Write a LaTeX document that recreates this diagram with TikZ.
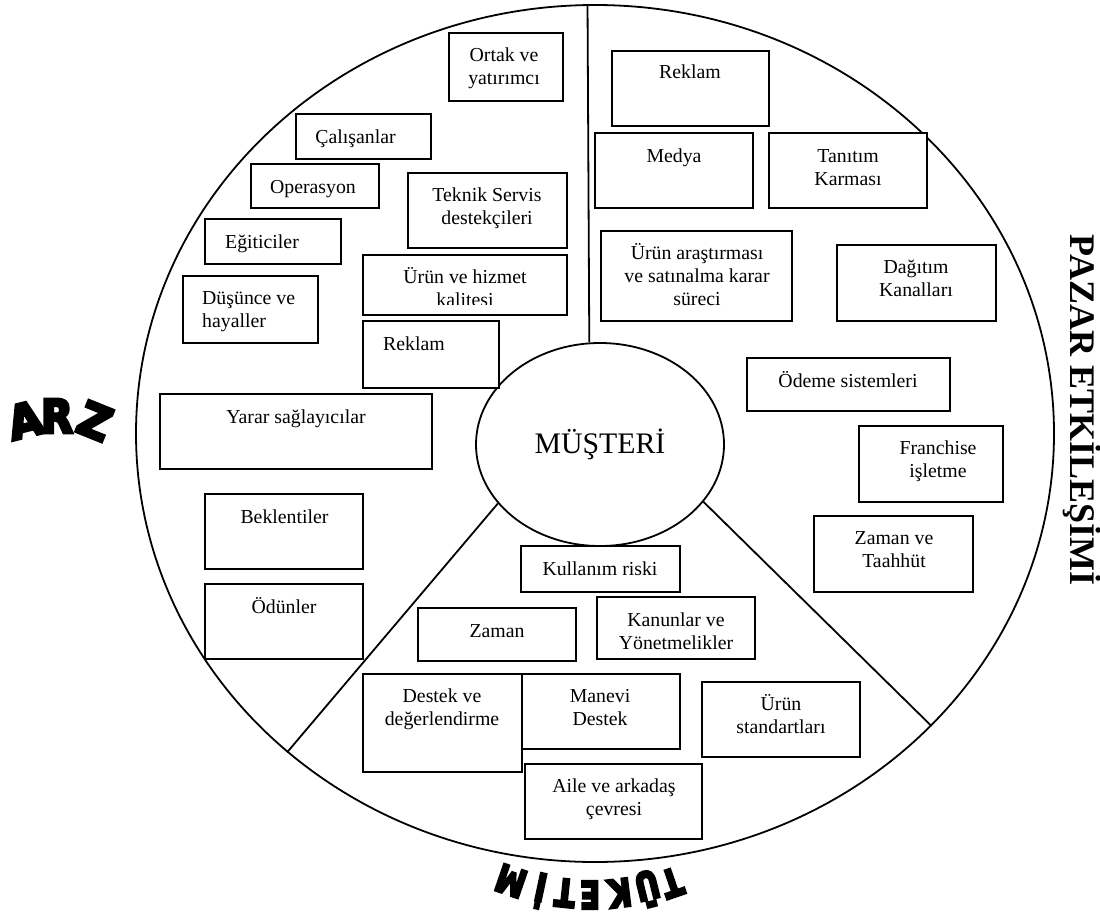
\documentclass[tikz,border=0pt]{standalone}
\usepackage{fontspec}
\setmainfont{Liberation Serif}
\newfontfamily\wordart[FakeBold=7]{DejaVu Sans}
\usepackage{tikz}
\usetikzlibrary{shapes.geometric}

\tikzset{
  ring/.style={draw, ellipse, line width=1.8pt, inner sep=0pt},
  box/.style={draw, line width=1.8pt, fill=white, inner sep=0pt},
  txt/.style={align=center, inner sep=0pt, font=\fontsize{19.8}{23}\selectfont},
  divider/.style={line width=1.8pt},
  arzletter/.style={inner sep=0pt, font=\wordart\bfseries\fontsize{46}{50}\selectfont},
  tukletter/.style={inner sep=0pt, font=\wordart\bfseries\fontsize{38}{42}\selectfont}
}

\begin{document}
\begin{tikzpicture}[x=1pt, y=-1pt]
\useasboundingbox (0,0) rectangle (1100,915);

% big circle and the customer in the middle
\node[ring, minimum width=918pt, minimum height=857pt] (pazar) at (595,433.5) {};
\node[ring, minimum width=248pt, minimum height=203pt, font=\fontsize{29.8}{34}\selectfont] (musteri) at (600,444.5) {MÜŞTERİ};

\draw[divider] (pazar.91) -- (musteri.96);
\draw[divider] (musteri.210) -- (pazar.226);
\draw[divider] (musteri.331) -- (pazar.319);

% ARZ side
\node[box, minimum width=114pt, minimum height=68pt] (ortak) at (506,67) {};
\node[txt, anchor=base] (ortakT) at (504,85) {Ortak ve\\yatırımcı};
\node[box, minimum width=135pt, minimum height=45pt] (calisan) at (363.5,136.5) {};
\node[txt, anchor=base] (calisanT) at (355.5,143) {Çalışanlar};
\node[box, minimum width=128pt, minimum height=44pt] (operasyon) at (315,186) {};
\node[txt, anchor=base] (operasyonT) at (313,193) {Operasyon};
\node[box, minimum width=136pt, minimum height=45pt] (egitici) at (273,241.5) {};
\node[txt, anchor=base] (egiticiT) at (262,248) {Eğiticiler};
\node[box, minimum width=135pt, minimum height=67pt] (dusunce) at (250.5,309.5) {};
\node[txt, align=left, anchor=base west] (dusunceT) at (202,327) {Düşünce ve\\hayaller};
\node[box, minimum width=159pt, minimum height=75pt] (teknik) at (487.5,210.5) {};
\node[txt, anchor=base] (teknikT) at (487,224) {Teknik Servis\\destekçileri};
\node[box, minimum width=204pt, minimum height=60pt] (kalite) at (465,285) {};
\begin{scope}
\clip (363,255) rectangle (567,304);
\node[txt, anchor=base] (kaliteT) at (465,306) {Ürün ve hizmet\\kalitesi};
\end{scope}
\node[box, minimum width=136pt, minimum height=67pt] (reklamA) at (431,354.5) {};
\node[txt, anchor=base west] (reklamAT) at (383,350) {Reklam};
\node[box, minimum width=272pt, minimum height=75pt] (yarar) at (296,431.5) {};
\node[txt, anchor=base] (yararT) at (296,423) {Yarar sağlayıcılar};
\node[box, minimum width=158pt, minimum height=75pt] (beklenti) at (284,531.5) {};
\node[txt, anchor=base] (beklentiT) at (284.5,523) {Beklentiler};
\node[box, minimum width=158pt, minimum height=75pt] (odun) at (284,621.5) {};
\node[txt, anchor=base] (odunT) at (284,613) {Ödünler};

% PAZAR ETKILESIMI side
\node[box, minimum width=157pt, minimum height=75pt] (reklamB) at (690.5,88.5) {};
\node[txt, anchor=base] (reklamBT) at (690,79) {Reklam};
\node[box, minimum width=158pt, minimum height=75pt] (medya) at (674,170.5) {};
\node[txt, anchor=base] (medyaT) at (674,162) {Medya};
\node[box, minimum width=158pt, minimum height=75pt] (tanitim) at (848,170.5) {};
\node[txt, anchor=base] (tanitimT) at (848,185) {Tanıtım\\Karması};
\node[box, minimum width=191pt, minimum height=90pt] (arastirma) at (696.5,276) {};
\node[txt, anchor=base] (arastirmaT) at (697,305) {Ürün araştırması\\ve satınalma karar\\süreci};
\node[box, minimum width=159pt, minimum height=76pt] (dagitim) at (916.5,283) {};
\node[txt, anchor=base] (dagitimT) at (916,296) {Dağıtım\\Kanalları};
\node[box, minimum width=203pt, minimum height=53pt] (odeme) at (848.5,384.5) {};
\node[txt, anchor=base] (odemeT) at (848,387) {Ödeme sistemleri};
\node[box, minimum width=144pt, minimum height=76pt] (franchise) at (931,464) {};
\node[txt, anchor=base] (franchiseT) at (938,477) {Franchise\\işletme};
\node[box, minimum width=159pt, minimum height=76pt] (taahhut) at (893.5,554) {};
\node[txt, anchor=base] (taahhutT) at (894,567) {Zaman ve\\Taahhüt};

% TUKETIM side
\node[box, minimum width=159pt, minimum height=46pt] (kullanim) at (600.5,569) {};
\node[txt, anchor=base] (kullanimT) at (600,575) {Kullanım riski};
\node[box, minimum width=158pt, minimum height=53pt] (zaman) at (497,634.5) {};
\node[txt, anchor=base] (zamanT) at (497,637) {Zaman};
\node[box, minimum width=158pt, minimum height=62pt] (kanun) at (676,628) {};
\node[txt, anchor=base] (kanunT) at (676,649) {Kanunlar ve\\Yönetmelikler};
\node[box, minimum width=159pt, minimum height=98pt] (destek) at (442.5,723) {};
\node[txt, anchor=base] (destekT) at (442,725) {Destek ve\\değerlendirme};
\node[box, minimum width=158pt, minimum height=75pt] (manevi) at (601,711.5) {};
\node[txt, anchor=base] (maneviT) at (600,725) {Manevi\\Destek};
\node[box, minimum width=158pt, minimum height=75pt] (standart) at (781,719.5) {};
\node[txt, anchor=base] (standartT) at (781,733) {Ürün\\standartları};
\node[box, minimum width=177pt, minimum height=75pt] (aile) at (613.5,801.5) {};
\node[txt, anchor=base] (aileT) at (614,815) {Aile ve arkadaş\\çevresi};

% outside titles
\node[rotate=-90, inner sep=0pt, font=\bfseries\fontsize{36}{40}\selectfont] (pazarT) at (1082,410) {PAZAR ETKİLEŞİMİ};

\node[arzletter, rotate=14, xscale=0.95] (arz1) at (25,420) {A};
\node[arzletter, xscale=0.9] (arz2) at (57,416) {R};
\node[arzletter, rotate=-22, xscale=0.95] (arz3) at (95,421) {Z};

\node[tukletter, rotate=199, xscale=0.78] (tuk1) at (672,883) {T};
\node[tukletter, rotate=194, xscale=0.78] (tuk2) at (648,889) {Ü};
\node[tukletter, rotate=187, xscale=0.78] (tuk3) at (620,893) {K};
\node[tukletter, rotate=180, xscale=0.78] (tuk4) at (590,895) {E};
\node[tukletter, rotate=174, xscale=0.78] (tuk5) at (565,893) {T};
\node[tukletter, rotate=168, xscale=0.78] (tuk6) at (540,891) {İ};
\node[tukletter, rotate=161, xscale=0.78] (tuk7) at (511,881) {M};
\end{tikzpicture}
\end{document}
